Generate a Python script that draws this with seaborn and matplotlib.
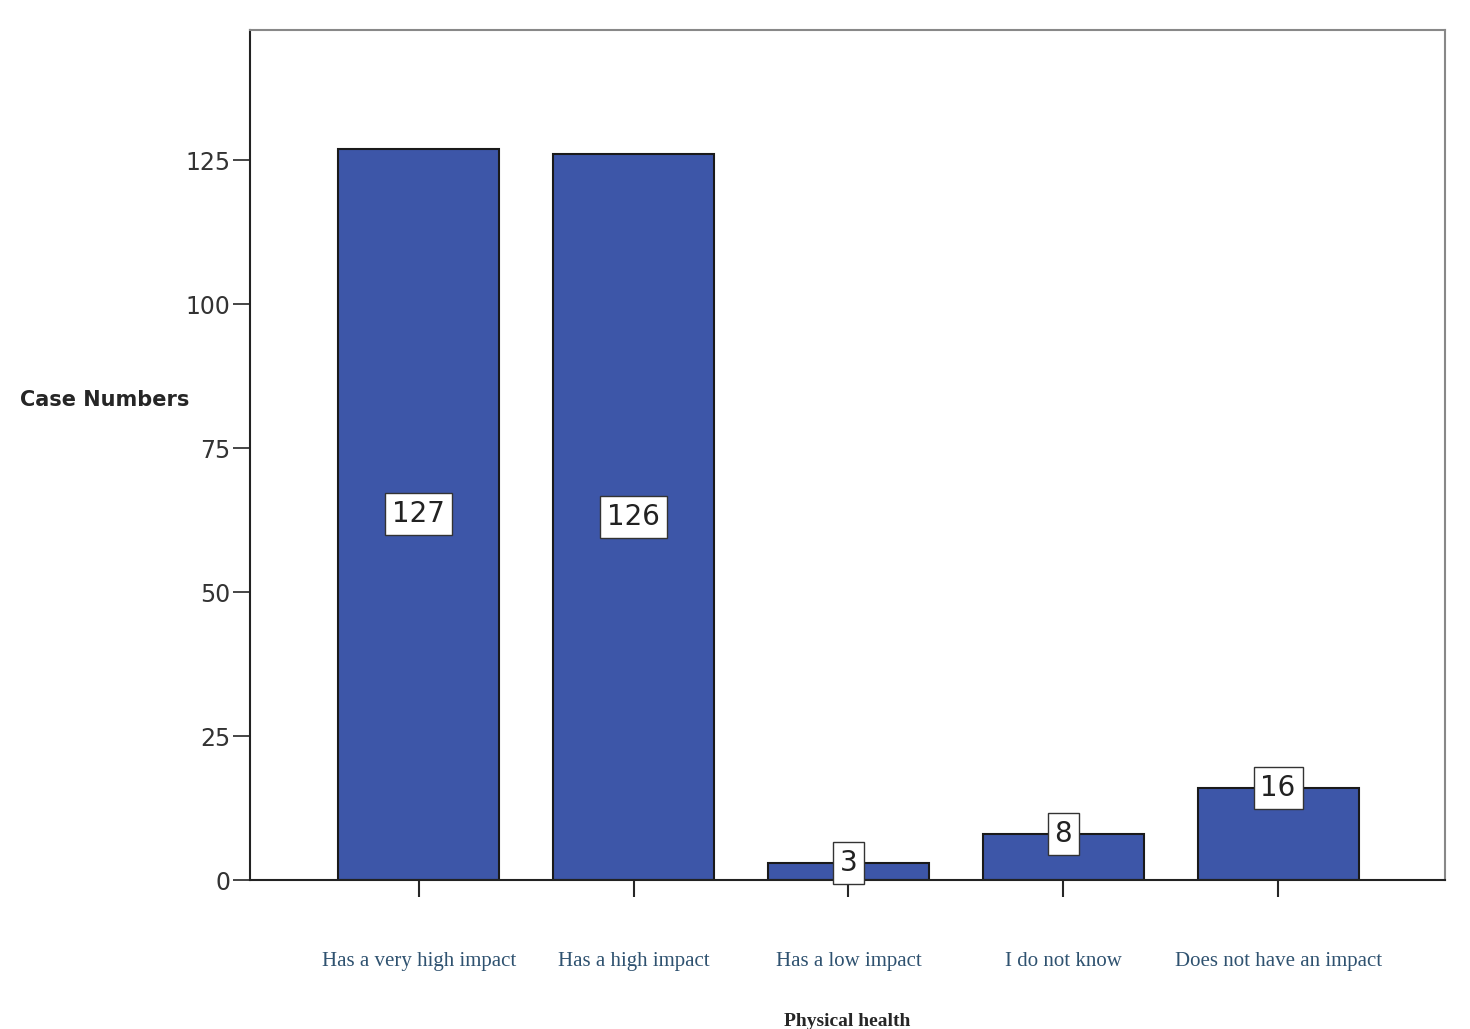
import matplotlib
matplotlib.use("Agg")
import matplotlib.pyplot as plt
import seaborn as sns
import pandas as pd

categories = ["Has a very high impact", "Has a high impact", "Has a low impact",
              "I do not know", "Does not have an impact"]
counts = [127, 126, 3, 8, 16]

df = pd.DataFrame({"category": categories, "count": counts})

sns.set_style("white")
fig = plt.figure(figsize=(14.7, 10.29), dpi=100)
ax = fig.add_axes([250 / 1470, 1 - 880 / 1029, 1195 / 1470, 850 / 1029])

sns.barplot(data=df, x="category", y="count", color="#3D56A8", saturation=1,
            width=0.75, edgecolor="#1a1a1a", linewidth=1.5, ax=ax)

ax.set_xlim(-0.786, 4.777)
ax.set_ylim(0, 147.6)
ax.set_yticks([0, 25, 50, 75, 100, 125])
ax.tick_params(axis="y", direction="out", length=12, width=1.2, labelsize=17,
               labelcolor="#333333", left=True, pad=2)
ax.tick_params(axis="x", direction="out", length=12, width=1.5, bottom=True,
               labelsize=15, labelcolor="#2F5270", pad=40)
for lab in ax.get_xticklabels():
    lab.set_family("Liberation Serif")

for s in ["left", "bottom"]:
    ax.spines[s].set_color("#222222")
    ax.spines[s].set_linewidth(1.5)
for s in ["top", "right"]:
    ax.spines[s].set_color("#888888")
    ax.spines[s].set_linewidth(1.5)

# value labels in white boxes
for i, v in enumerate(counts):
    y = v / 2 if v > 20 else max(v, 2.5)
    ax.text(i, y, str(v), ha="center", va="center", fontsize=20, color="#222222",
            bbox=dict(boxstyle="square,pad=0.25", facecolor="white",
                      edgecolor="#333333", linewidth=1))

ax.set_xlabel("Physical health", fontsize=14, fontweight="bold",
              family="Liberation Serif", labelpad=30)
ax.set_ylabel("")
fig.text(20 / 1470, 1 - 400 / 1029, "Case Numbers", fontsize=15,
         fontweight="bold", va="center", ha="left")

fig.savefig("out.png", dpi=100)
